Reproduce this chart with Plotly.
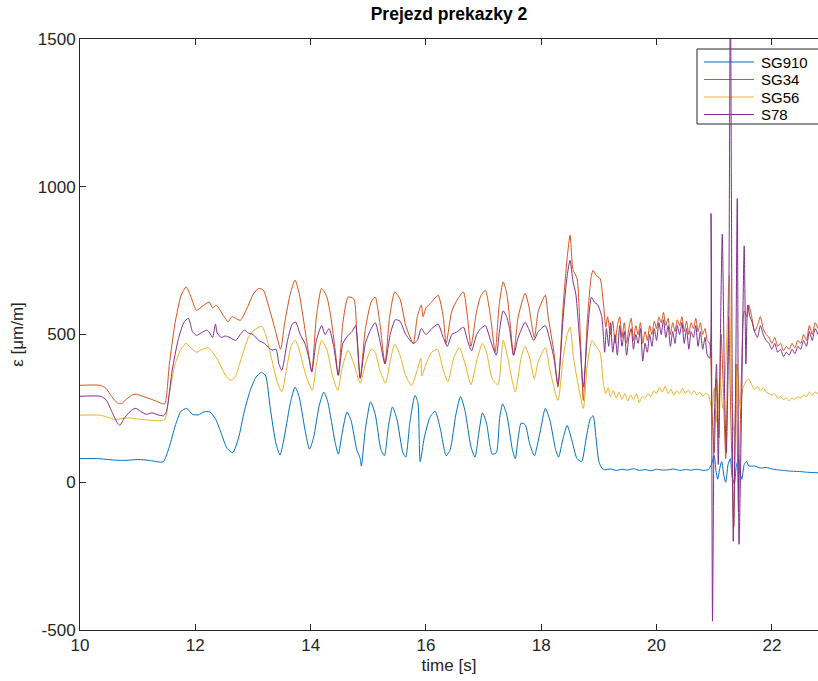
import plotly.graph_objects as go

# ---------------- data ----------------
t_sg910 = [10.0, 10.3, 10.6, 10.8, 11.0, 11.2, 11.4, 11.45,
           11.55, 11.65, 11.75, 11.85, 11.95, 12.05, 12.15, 12.25, 12.35, 12.45, 12.55, 12.65,
           12.75, 12.85, 12.95, 13.05, 13.15, 13.22, 13.3, 13.4, 13.47, 13.55, 13.65, 13.73,
           13.8, 13.9, 13.98, 14.05, 14.15, 14.23, 14.3, 14.42, 14.48, 14.55, 14.63, 14.7,
           14.8, 14.86, 14.88, 14.95, 15.04, 15.12, 15.22, 15.28, 15.35, 15.42, 15.5, 15.6,
           15.65, 15.72, 15.81, 15.86, 15.9, 15.97, 16.07, 16.16, 16.25, 16.35, 16.42, 16.52,
           16.6, 16.68, 16.78, 16.85, 16.92, 16.98, 17.05, 17.15, 17.22, 17.28, 17.33, 17.4,
           17.5, 17.55, 17.6, 17.65, 17.72, 17.8, 17.88, 17.98, 18.07, 18.15, 18.25, 18.3,
           18.38, 18.45, 18.52, 18.62, 18.7, 18.78, 18.85, 18.9, 18.95, 19.0, 19.05, 19.1,
           19.2, 19.3, 19.4, 19.5, 19.6, 19.7, 19.8, 19.9, 20.0, 20.1, 20.2, 20.3, 20.4,
           20.5, 20.6, 20.7, 20.8, 20.9, 20.95, 21.0, 21.03, 21.06, 21.1, 21.13, 21.17, 21.2,
           21.24, 21.28, 21.31, 21.35, 21.38, 21.42, 21.45, 21.48, 21.52, 21.56, 21.6, 21.7,
           21.8, 21.9, 22.0, 22.1, 22.2, 22.3, 22.4, 22.5, 22.6, 22.7, 22.8]
v_sg910 = [80, 80, 75, 74, 77, 74, 68, 70,
           120, 190, 240, 250, 230, 228, 238, 238, 215, 165, 115, 100,
           150, 240, 310, 355, 372, 360, 250, 130, 92, 160, 270, 322,
           290, 180, 112, 150, 260, 305, 270, 140, 95, 170, 238, 210,
           110, 80, 55, 180, 272, 230, 110, 90, 190, 255, 210, 100,
           85, 200, 294, 270, 70, 150, 220, 240, 180, 90, 110, 230,
           290, 240, 120, 85, 170, 235, 200, 95, 100, 220, 265, 230,
           110, 80, 150, 200, 195, 130, 90, 170, 250, 210, 110, 85,
           150, 192, 150, 80, 70, 150, 215, 225, 150, 70, 48, 42,
           45, 40, 44, 41, 46, 40, 43, 39, 44, 41, 42, 45, 40,
           43, 41, 44, 40, 43, 60, 90, 40, 10, 50, 70, 20, 0,
           60, 80, 20, -5, 50, 80, 30, 10, 60, 70, 55, 55,
           48, 50, 45, 42, 40, 38, 37, 36, 34, 33, 32]

t_sg34 = [10.0, 10.35, 10.45, 10.55, 10.65, 10.72, 10.8, 10.9, 10.97, 11.1, 11.25, 11.4, 11.47,
          11.55, 11.65, 11.75, 11.84, 11.92, 12.02, 12.12, 12.24, 12.3, 12.36, 12.42, 12.5,
          12.57, 12.63, 12.7, 12.78, 12.9, 13.0, 13.1, 13.18, 13.28, 13.38, 13.48, 13.55,
          13.65, 13.73, 13.8, 13.9, 13.96, 14.02, 14.1, 14.19, 14.28, 14.35, 14.43, 14.48,
          14.56, 14.65, 14.75, 14.8, 14.86, 14.95, 15.05, 15.12, 15.2, 15.29, 15.37, 15.46,
          15.55, 15.65, 15.78, 15.85, 15.92, 15.95, 16.0, 16.1, 16.21, 16.3, 16.35, 16.45,
          16.55, 16.65, 16.72, 16.78, 16.88, 16.95, 17.03, 17.12, 17.2, 17.27, 17.34, 17.4,
          17.45, 17.52, 17.6, 17.72, 17.78, 17.88, 17.95, 18.07, 18.12, 18.22, 18.29, 18.38,
          18.45, 18.5, 18.55, 18.62, 18.68, 18.73, 18.8, 18.87, 18.9, 18.95, 19.02, 19.08,
          19.12, 19.15, 19.2, 19.24, 19.28, 19.32, 19.36, 19.4, 19.44, 19.48, 19.52, 19.56,
          19.6, 19.64, 19.68, 19.72, 19.76, 19.8, 19.84, 19.88, 19.92, 19.96, 20.0, 20.04,
          20.08, 20.12, 20.16, 20.2, 20.24, 20.28, 20.32, 20.36, 20.4, 20.44, 20.48, 20.52,
          20.56, 20.6, 20.64, 20.68, 20.72, 20.76, 20.8, 20.84, 20.88, 20.92, 20.96, 21.0,
          21.04, 21.08, 21.12, 21.16, 21.2, 21.25, 21.29, 21.34, 21.38, 21.42, 21.47, 21.52,
          21.57, 21.6, 21.65, 21.7, 21.75, 21.8, 21.85, 21.9, 21.95, 22.0, 22.05, 22.1,
          22.15, 22.2, 22.25, 22.3, 22.35, 22.4, 22.45, 22.5, 22.55, 22.6, 22.65, 22.7,
          22.75, 22.8]
v_sg34 = [328, 328, 318, 290, 268, 266, 280, 295, 298, 290, 280, 268, 265,
          400, 540, 630, 661, 630, 582, 595, 610, 590, 600, 585, 560,
          543, 560, 555, 548, 590, 635, 656, 650, 590, 520, 450, 540,
          640, 684, 640, 520, 440, 375, 560, 656, 628, 560, 440, 362,
          540, 627, 620, 500, 352, 520, 610, 627, 540, 402, 560, 644,
          620, 530, 470, 560, 600, 560, 590, 610, 633, 560, 470, 580,
          620, 644, 560, 460, 580, 630, 650, 560, 440, 600, 678, 640,
          560, 430, 560, 639, 600, 490, 580, 633, 560, 440, 322, 600,
          760, 836, 720, 690, 480, 277, 550, 700, 717, 700, 690, 600,
          525, 560, 500, 545, 470, 530, 560, 490, 540, 470, 520, 555,
          480, 530, 500, 540, 470, 510, 480, 530, 500, 545, 520, 560,
          540, 575, 530, 555, 500, 540, 510, 550, 530, 560, 510, 545,
          500, 540, 520, 555, 510, 540, 500, 520, 480, 470, 250, 100,
          350, 150, 500, 300, 80, 560, 200, -150, 400, -100, 350, 580,
          560, 600, 560, 510, 530, 560, 520, 500, 490, 470, 490, 460,
          470, 445, 460, 450, 470, 455, 480, 470, 500, 480, 530, 500,
          540, 520]

t_sg56 = [10.0, 10.35, 10.45, 10.6, 10.7, 10.85, 11.0, 11.2, 11.35, 11.47,
          11.55, 11.65, 11.75, 11.84, 11.92, 12.02, 12.12, 12.22, 12.3, 12.4, 12.5, 12.58,
          12.63, 12.7, 12.8, 12.92, 13.02, 13.15, 13.22, 13.32, 13.42, 13.5, 13.58, 13.66,
          13.73, 13.8, 13.92, 14.03, 14.1, 14.19, 14.28, 14.38, 14.47, 14.55, 14.65, 14.75,
          14.86, 14.95, 15.05, 15.12, 15.2, 15.3, 15.38, 15.46, 15.55, 15.65, 15.75, 15.85,
          15.91, 15.93, 16.0, 16.1, 16.2, 16.3, 16.38, 16.48, 16.58, 16.68, 16.78, 16.88,
          16.98, 17.05, 17.15, 17.25, 17.34, 17.42, 17.5, 17.55, 17.65, 17.72, 17.8, 17.88,
          17.95, 18.07, 18.15, 18.29, 18.38, 18.45, 18.5, 18.56, 18.65, 18.73, 18.8, 18.88,
          18.95, 19.02, 19.08, 19.12, 19.16, 19.2, 19.25, 19.3, 19.35, 19.4, 19.45, 19.5,
          19.55, 19.6, 19.65, 19.7, 19.75, 19.8, 19.85, 19.9, 19.95, 20.0, 20.05, 20.1,
          20.15, 20.2, 20.25, 20.3, 20.35, 20.4, 20.45, 20.5, 20.55, 20.6, 20.65, 20.7,
          20.75, 20.8, 20.85, 20.9, 20.96, 21.0, 21.05, 21.1, 21.15, 21.2, 21.26, 21.3,
          21.35, 21.4, 21.45, 21.5, 21.55, 21.6, 21.65, 21.7, 21.75, 21.8, 21.85, 21.9,
          21.95, 22.0, 22.05, 22.1, 22.15, 22.2, 22.25, 22.3, 22.35, 22.4, 22.45, 22.5,
          22.55, 22.6, 22.65, 22.7, 22.75, 22.8]
v_sg56 = [227, 227, 222, 212, 215, 218, 214, 210, 208, 212,
          300, 400, 450, 470, 455, 440, 450, 455, 440, 410, 370, 348,
          345, 360, 420, 490, 515, 528, 500, 420, 340, 306, 380, 460,
          480, 450, 360, 311, 400, 480, 450, 360, 311, 390, 447, 400,
          335, 400, 450, 440, 380, 335, 410, 467, 430, 360, 328, 380,
          420, 360, 400, 440, 450, 380, 340, 420, 455, 400, 330, 410,
          470, 440, 350, 330, 480, 420, 340, 305, 420, 460, 420, 350,
          410, 455, 380, 277, 420, 500, 525, 420, 320, 250, 400, 480,
          460, 440, 330, 300, 320, 290, 310, 285, 305, 280, 300, 275,
          295, 280, 300, 270, 290, 285, 300, 290, 310, 300, 320, 305,
          325, 300, 315, 295, 310, 300, 318, 300, 312, 298, 310, 295,
          305, 292, 300, 295, 250, 320, 200, 350, 250, 400, 700, 300,
          150, 400, 250, 320, 340, 350, 330, 315, 325, 310, 320, 305,
          300, 295, 300, 285, 290, 280, 285, 275, 285, 280, 290, 285,
          295, 290, 305, 295, 305, 300]

t_s78 = [10.0, 10.35, 10.45, 10.55, 10.65, 10.69, 10.78, 10.9, 10.97, 11.05, 11.15, 11.25,
         11.35, 11.45, 11.5, 11.6, 11.7, 11.8, 11.88, 11.95, 12.02, 12.1, 12.2, 12.25, 12.3,
         12.35, 12.38, 12.45, 12.52, 12.6, 12.7, 12.78, 12.85, 12.92, 13.0, 13.1, 13.2,
         13.33, 13.4, 13.45, 13.5, 13.6, 13.68, 13.74, 13.82, 13.9, 13.97, 14.02, 14.1,
         14.19, 14.25, 14.32, 14.4, 14.48, 14.56, 14.65, 14.72, 14.78, 14.86, 14.95, 15.05,
         15.12, 15.2, 15.29, 15.38, 15.47, 15.55, 15.65, 15.78, 15.85, 15.92, 16.0, 16.1,
         16.21, 16.3, 16.37, 16.45, 16.55, 16.65, 16.72, 16.79, 16.88, 16.95, 17.03, 17.12,
         17.22, 17.28, 17.34, 17.4, 17.45, 17.52, 17.6, 17.72, 17.78, 17.87, 17.95, 18.07,
         18.15, 18.22, 18.29, 18.38, 18.45, 18.5, 18.55, 18.6, 18.67, 18.73, 18.8, 18.87,
         18.92, 18.98, 19.05, 19.1, 19.13, 19.17, 19.2, 19.24, 19.28, 19.32, 19.36, 19.4,
         19.44, 19.48, 19.52, 19.56, 19.6, 19.64, 19.68, 19.72, 19.76, 19.8, 19.84, 19.88,
         19.92, 19.96, 20.0, 20.04, 20.08, 20.12, 20.16, 20.2, 20.24, 20.28, 20.32, 20.36,
         20.4, 20.44, 20.48, 20.52, 20.56, 20.6, 20.64, 20.68, 20.72, 20.76, 20.8, 20.84,
         20.88, 20.92, 20.945, 20.97, 21.0, 21.04, 21.07, 21.1, 21.14, 21.18, 21.21, 21.25,
         21.28, 21.31, 21.33, 21.37, 21.4, 21.43, 21.47, 21.52, 21.55, 21.58, 21.62, 21.66,
         21.7, 21.75, 21.8, 21.85, 21.9, 21.95, 22.0, 22.05, 22.1, 22.15, 22.2, 22.25,
         22.3, 22.35, 22.4, 22.45, 22.5, 22.55, 22.6, 22.65, 22.7, 22.75, 22.8]
v_s78 = [291, 291, 280, 240, 200, 193, 220, 245, 250, 240, 230, 235,
         228, 225, 240, 380, 480, 540, 555, 510, 497, 505, 515, 505, 490,
         535, 505, 490, 495, 490, 480, 500, 515, 505, 500, 480, 470,
         447, 450, 400, 379, 480, 535, 542, 500, 470, 420, 373, 480,
         530, 500, 520, 460, 362, 470, 497, 510, 530, 352, 470, 520,
         540, 480, 400, 500, 550, 545, 500, 470, 480, 520, 500, 520,
         535, 490, 460, 500, 510, 525, 480, 445, 500, 520, 530, 480,
         430, 520, 580, 560, 520, 430, 490, 541, 520, 480, 510, 530,
         480, 420, 330, 560, 700, 751, 680, 636, 470, 322, 500, 626,
         610, 600, 560, 440, 520, 460, 540, 440, 500, 430, 530, 460,
         510, 430, 490, 520, 450, 500, 470, 520, 410, 470, 440, 500,
         460, 520, 480, 540, 500, 550, 490, 530, 460, 510, 470, 530,
         500, 540, 470, 520, 450, 510, 490, 530, 460, 510, 450, 490,
         430, 420, 910, -470, 200, 400, 60, 400, 840, 300, 100, 500,
         1700, 400, -200, 300, 960, -210, 200, 800, 400, 600, 560, 540,
         510, 490, 530, 500, 480, 470, 450, 470, 440, 450, 425, 440,
         430, 450, 435, 460, 450, 480, 460, 510, 480, 520, 500]

names = ["SG910", "SG34", "SG56", "S78"]
colors = ["#0072BD", "#D95319", "#EDB120", "#7E2F8E"]
series_t = [t_sg910, t_sg34, t_sg56, t_s78]
series_v = [v_sg910, v_sg34, v_sg56, v_s78]

x_ticks = [10, 12, 14, 16, 18, 20, 22]
y_ticks = [-500, 0, 500, 1000, 1500]
y_ticktext = ["-500", "0", "500", "1000", "1500"]

# ---------------- figure ----------------
W, H = 818, 681
ML, MR, MT, MB = 80, 0, 39, 51
PW, PH = W - ML - MR, H - MT - MB


def px_x(p):
    return (p - ML) / PW


def px_y(p):
    return (H - MB - p) / PH


fig = go.Figure()
for n, c, tt, vv in zip(names, colors, series_t, series_v):
    fig.add_trace(go.Scatter(x=tt, y=vv, mode="lines", name=n, showlegend=False,
                             line=dict(color=c, width=1, shape="spline", smoothing=0.6)))

axis_col = "#262626"
font_family = "Liberation Sans, Arial, Helvetica, sans-serif"

# MATLAB-style legend box (drawn as shapes + text); the spike line crosses it as in the original
shapes = [dict(type="rect", xref="paper", yref="paper",
               x0=px_x(697), x1=px_x(W + 4), y0=px_y(124), y1=px_y(49),
               line=dict(color=axis_col, width=1), fillcolor="white", layer="below")]
annotations = []
row_y = [62, 79.5, 97, 114.5]
for n, c, ry in zip(names, colors, row_y):
    shapes.append(dict(type="line", xref="paper", yref="paper",
                       x0=px_x(704), x1=px_x(754), y0=px_y(ry), y1=px_y(ry),
                       line=dict(color=c, width=1), layer="below"))
    annotations.append(dict(text=n, xref="paper", yref="paper", x=px_x(759), y=px_y(ry),
                            xanchor="left", yanchor="middle", showarrow=False,
                            font=dict(size=15, color="black")))

fig.update_layout(
    width=W, height=H,
    margin=dict(l=ML, r=MR, t=MT, b=MB),
    plot_bgcolor="white", paper_bgcolor="white",
    font=dict(family=font_family, size=17, color=axis_col),
    title=dict(text="<b>Prejezd prekazky 2</b>", x=(ML + PW / 2) / W, xanchor="center",
               y=1 - 14 / H, yanchor="middle", yref="container",
               font=dict(size=17.5, color="black")),
    showlegend=False,
    shapes=shapes,
    annotations=annotations,
)
fig.update_xaxes(range=[10, 22.8], tickvals=x_ticks, ticks="inside", ticklen=6,
                 tickcolor=axis_col, showline=True, linecolor=axis_col, linewidth=1,
                 mirror="ticks", showgrid=False, zeroline=False,
                 title=dict(text="time [s]", standoff=4, font=dict(size=17)),
                 tickfont=dict(size=17))
fig.update_yaxes(range=[-500, 1500], tickvals=y_ticks, ticktext=y_ticktext,
                 ticks="inside", ticklen=6, tickcolor=axis_col, showline=True,
                 linecolor=axis_col, linewidth=1, mirror=False, showgrid=False,
                 zeroline=False, title=dict(text="ε [μm/m]", standoff=9, font=dict(size=17)),
                 tickfont=dict(size=17))

fig.write_html("out.html")
